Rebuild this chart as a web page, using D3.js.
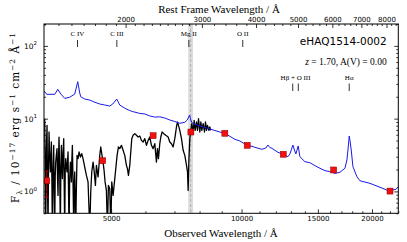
<!DOCTYPE html>
<html><head><meta charset="utf-8">
<script src="https://cdn.jsdelivr.net/npm/d3@7"></script>
<style>body{margin:0;background:#fff}svg{display:block}</style>
</head><body><svg id="c" width="407" height="242"></svg>
<script>
const redshift = 1.70;
const objectName = "eHAQ1514-0002";
const infoText = ["z", " = 1.70, A(V) = 0.00"];

// Quasar template (blue)
const templateWave = [3500,3551,3706,3766,3826,3908,4013,4121,4187,4232,4255,4347,4464,4584,4707,4834,4964,5044,5151,5235,5377,5521,5611,5823,5979,6141,6306,6475,6651,6830,7015,7203,7397,7495,7584,7637,7698,8011,8449,8912,9151,9650,9911,10177,10733,11139,11378,11500,11624,11749,12131,12589,12793,12929,13138,13242,13348,13512,13634,14003,14379,14768,15165,15574,15993,16424,16866,17320,17506,17646,17720,17815,17930,18072,18463,18760,19785,20865,21429,22004,22357,22717,22990];
const templateFlux = [24.2,21.6,21.6,25.3,21.8,19.0,19.7,21.8,32.2,22.5,20.0,18.6,18.0,16.8,15.9,15.4,14.9,15.9,18.6,15.4,13.9,12.9,12.5,11.8,11.6,10.9,10.5,10.6,10.2,9.58,9.14,8.63,8.91,9.58,11.2,9.58,8.63,7.93,7.21,6.55,6.29,5.20,4.93,4.48,4.04,3.79,3.95,4.34,4.01,3.91,3.45,3.16,3.00,3.27,4.34,3.71,3.27,4.21,3.00,2.56,2.48,2.26,2.08,1.93,1.87,1.77,1.83,2.08,2.70,4.34,5.77,4.78,3.48,2.19,1.59,1.40,1.29,1.14,1.07,0.99,1.05,1.07,1.16];

// Observed spectrum (black)
const specWave = [3513,3522,3532,3545,3557,3566,3576,3586,3595,3608,3621,3630,3640,3650,3659,3672,3685,3695,3705,3715,3725,3738,3751,3761,3771,3781,3791,3805,3818,3829,3839,3849,3859,3873,3887,3897,3907,3918,3928,3942,3956,3966,3977,3988,3998,4012,4027,4038,4048,4059,4070,4085,4099,4110,4121,4132,4143,4157,4172,4194,4217,4247,4277,4307,4346,4385,4423,4463,4487,4511,4543,4567,4600,4624,4665,4707,4732,4757,4791,4816,4842,4876,4902,4929,4964,4991,5017,5053,5098,5125,5161,5198,5235,5282,5329,5376,5424,5453,5482,5521,5550,5580,5620,5670,5720,5771,5823,5874,5927,5980,6033,6086,6141,6195,6250,6306,6362,6396,6430,6476,6511,6556,6615,6685,6769,6829,6890,6951,7013,7076,7114,7152,7202,7267,7331,7397,7463,7503,7529,7556,7596,7636,7677,7732,7773,7814,7870,7912,7955,8010,8054,8097,8154,8212,8256,8300,8344,8403,8448,8478];
const specFlux = [9.99,2.1,0.3,3.9,8.09,1.2,0.3,2.4,6.55,3.1,1.85,2.7,4.78,1.4,0.3,1.9,4.30,1.0,0.3,1.6,2.53,3.2,3.87,1.5,0.88,2.9,5.59,1.7,0.3,2.2,4.30,2.6,1.50,3.4,5.31,1.1,0.3,1.9,2.82,2.2,1.85,2.6,3.48,0.9,0.3,1.5,2.53,1.9,1.35,2.8,4.30,1.2,0.3,1.3,1.85,0.7,0.3,1.09,3.13,2.82,3.48,2.97,3.30,2.82,2.16,1.66,1.35,0.3,0.98,1.85,2.53,1.95,1.21,2.28,1.58,3.13,4.08,3.30,2.53,1.95,1.35,1.03,0.3,1.21,1.09,0.3,1.35,0.88,1.50,2.05,3.13,4.08,3.87,4.30,3.67,3.13,2.28,2.05,1.66,2.28,3.48,5.31,5.90,6.22,5.90,5.59,5.77,5.03,4.78,5.31,4.30,5.03,5.59,4.30,3.87,4.53,2.53,3.87,2.82,4.53,5.59,6.55,6.22,5.90,5.59,4.78,4.53,4.08,5.31,7.68,8.99,8.09,6.91,5.31,3.67,3.13,2.28,1.85,1.03,2.53,5.31,6.91,8.53,6.55,9.48,6.91,8.99,6.91,9.99,6.55,8.99,6.91,8.53,6.55,8.99,6.91,8.09,6.91,7.68,6.91];

// Photometry (red squares)
const photWave = [3551,4780,6250,7640,9150,10305,12483,16313,22010];
const photFlux = [1.40,2.64,5.83,6.55,6.29,4.30,3.24,1.97,1.01];
const photErrLow = [0.83,null,null,null,null,null,null,null,null];
const photErrHigh = [1.91,null,null,null,null,null,null,null,null];

// Masked region around Mg II (observed frame)
const maskRange = [7530, 7730];

// Emission line markers
const upperLineNames = ["C IV","C III","Mg II","O II"];
const upperLineRest = [1549,1909,2799,3727];
const lowerLineNames = ["Hβ + O III","Hα"];
const lowerLineRest = [[4861,5007],[6563]];

// Ticks
const obsTicks = [5000,10000,15000,20000];
const obsMinor = [4000,6000,7000,8000,9000,11000,12000,13000,14000,16000,17000,18000,19000,21000,22000,23000];
const restTicks = [2000,3000,4000,5000,6000,7000,8000];
const restMinor = [1300,1400,1500,1600,1700,1800,1900,2100,2200,2300,2400,2500,2600,2700,2800,2900,3200,3400,3600,3800,4200,4400,4600,4800,5200,5400,5600,5800,6200,6400,6600,6800,7200,7400,7600,7800,8200,8400];
const fluxTicks = [1,10,100];
const fluxTickExp = ["0","1","2"];
const fluxMinor = [0.5,0.6,0.7,0.8,0.9,2,3,4,5,6,7,8,9,20,30,40,50,60,70,80,90,200];

const svg = d3.select("#c");
const L=44, R=398.3, T=24, B=213.3;
const x = d3.scaleLog().domain([3500,23000]).range([L,R]);
const y = d3.scaleLog().domain([0.5,200]).range([B,T]);
const xr = w => x(w*(1+redshift));

svg.append("defs").append("clipPath").attr("id","clip")
  .append("rect").attr("x",L).attr("y",T).attr("width",R-L).attr("height",B-T);

const plot = svg.append("g").attr("clip-path","url(#clip)");
plot.append("rect").attr("x",x(maskRange[0])).attr("y",T)
  .attr("width",x(maskRange[1])-x(maskRange[0])).attr("height",B-T)
  .attr("fill","#dcdcdc");
const mc = Math.sqrt(maskRange[0]*maskRange[1]);
plot.append("line").attr("x1",x(mc)).attr("x2",x(mc)).attr("y1",T).attr("y2",B)
  .attr("stroke","#b0b0b0").attr("stroke-width",1).attr("stroke-dasharray","3,2");

const line = d3.line().x(d=>x(d[0])).y(d=>y(d[1]));
plot.append("path").datum(specWave.map((w,i)=>[w,specFlux[i]]))
  .attr("d",line).attr("fill","none").attr("stroke","#000").attr("stroke-width",1.3).attr("stroke-linejoin","round");
plot.append("path").datum(templateWave.map((w,i)=>[w,templateFlux[i]]))
  .attr("d",line).attr("fill","none").attr("stroke","#1a1ae6").attr("stroke-width",1);

photWave.forEach((w,i)=>{
  if (photErrLow[i]==null) return;
  const g = plot.append("g").attr("stroke","#b00000").attr("stroke-width",1);
  g.append("line").attr("x1",x(w)).attr("x2",x(w)).attr("y1",y(photErrLow[i])).attr("y2",y(photErrHigh[i]));
  g.append("line").attr("x1",x(w)-2).attr("x2",x(w)+2).attr("y1",y(photErrLow[i])).attr("y2",y(photErrLow[i]));
  g.append("line").attr("x1",x(w)-2).attr("x2",x(w)+2).attr("y1",y(photErrHigh[i])).attr("y2",y(photErrHigh[i]));
});
const s = 6;
plot.selectAll("rect.ph").data(photWave).enter().append("rect").attr("class","ph")
  .attr("x",d=>x(d)-s/2).attr("y",(d,i)=>y(photFlux[i])-s/2).attr("width",s).attr("height",s)
  .attr("fill","#f01010").attr("stroke","#900000").attr("stroke-width",0.5);

function styleAxis(g){ g.select(".domain").remove(); g.selectAll("line").attr("stroke","#000").attr("stroke-width",0.8);
  g.selectAll("text").attr("font-family","DejaVu Sans").attr("font-size",7).attr("fill","#000"); }
svg.append("g").attr("transform",`translate(0,${B})`).call(d3.axisBottom(x).tickValues(obsTicks).tickSize(-4).tickPadding(2.5).tickFormat(d3.format("d"))).call(styleAxis);
svg.append("g").attr("transform",`translate(0,${B})`).call(d3.axisBottom(x).tickValues(obsMinor).tickSize(-2).tickFormat("")).call(styleAxis);
const xTop = d3.scaleLog().domain([3500/(1+redshift),23000/(1+redshift)]).range([L,R]);
svg.append("g").attr("transform",`translate(0,${T})`).call(d3.axisTop(xTop).tickValues(restTicks).tickSize(-4).tickPadding(2.5).tickFormat(d3.format("d"))).call(styleAxis);
svg.append("g").attr("transform",`translate(0,${T})`).call(d3.axisTop(xTop).tickValues(restMinor).tickSize(-2).tickFormat("")).call(styleAxis);
svg.append("g").attr("transform",`translate(${L},0)`).call(d3.axisLeft(y).tickValues(fluxTicks).tickSize(-4).tickFormat("")).call(styleAxis);
svg.append("g").attr("transform",`translate(${L},0)`).call(d3.axisLeft(y).tickValues(fluxMinor).tickSize(-2).tickFormat("")).call(styleAxis);
svg.append("g").attr("transform",`translate(${R},0)`).call(d3.axisRight(y).tickValues(fluxTicks).tickSize(-4).tickFormat("")).call(styleAxis);
svg.append("g").attr("transform",`translate(${R},0)`).call(d3.axisRight(y).tickValues(fluxMinor).tickSize(-2).tickFormat("")).call(styleAxis);
fluxTicks.forEach((v,i)=>{
  const t = svg.append("text").attr("x",37).attr("y",y(v)+3).attr("text-anchor","end")
    .attr("font-family","DejaVu Sans").attr("font-size",7.5).attr("fill","#000");
  t.append("tspan").text("10");
  t.append("tspan").attr("dy",-3.5).attr("font-size",5.5).text(fluxTickExp[i]);
});
svg.append("rect").attr("x",L).attr("y",T).attr("width",R-L).attr("height",B-T)
  .attr("fill","none").attr("stroke","#000").attr("stroke-width",1);

const serif = "Liberation Serif";
upperLineRest.forEach((r,i)=>{
  svg.append("line").attr("x1",xr(r)).attr("x2",xr(r)).attr("y1",40).attr("y2",47).attr("stroke","#000").attr("stroke-width",0.8);
  svg.append("text").attr("x",xr(r)).attr("y",35.5).attr("text-anchor","middle").attr("font-family",serif).attr("font-size",7).text(upperLineNames[i]);
});
lowerLineRest.forEach((arr,i)=>{
  arr.forEach(r=>svg.append("line").attr("x1",xr(r)).attr("x2",xr(r)).attr("y1",83.5).attr("y2",91).attr("stroke","#000").attr("stroke-width",0.8));
  const c = arr.reduce((a,b)=>a+b,0)/arr.length;
  svg.append("text").attr("x",xr(c)).attr("y",79.5).attr("text-anchor","middle").attr("font-family",serif).attr("font-size",7).text(lowerLineNames[i]);
});

svg.append("text").attr("x",386.7).attr("y",44.5).attr("text-anchor","end").attr("font-family","DejaVu Sans").attr("font-size",10.5).text(objectName);
const it = svg.append("text").attr("x",386.7).attr("y",65).attr("text-anchor","end").attr("font-family",serif).attr("font-size",9.5);
it.append("tspan").attr("font-style","italic").text(infoText[0]);
it.append("tspan").text(infoText[1]);

svg.append("text").attr("x",219).attr("y",13).attr("text-anchor","middle").attr("font-family",serif).attr("font-size",11).text("Rest Frame Wavelength / Å");
svg.append("text").attr("x",221).attr("y",236.5).attr("text-anchor","middle").attr("font-family",serif).attr("font-size",11).text("Observed Wavelength / Å");

const yl = svg.append("text").attr("transform","translate(19,118) rotate(-90)").attr("text-anchor","middle")
  .attr("font-family","DejaVu Serif").attr("font-size",10.5).attr("textLength",170).attr("lengthAdjust","spacing");
yl.append("tspan").text("F");
yl.append("tspan").attr("dy",2.5).attr("font-size",7.5).text("λ");
yl.append("tspan").attr("dy",-2.5).text(" / 10");
yl.append("tspan").attr("dy",-4).attr("font-size",7.5).text("−17");
yl.append("tspan").attr("dy",4).text(" erg s");
yl.append("tspan").attr("dy",-4).attr("font-size",7.5).text("−1");
yl.append("tspan").attr("dy",4).text(" cm");
yl.append("tspan").attr("dy",-4).attr("font-size",7.5).text("−2");
yl.append("tspan").attr("dy",4).text(" Å");
yl.append("tspan").attr("dy",-4).attr("font-size",7.5).text("−1");
</script></body></html>
